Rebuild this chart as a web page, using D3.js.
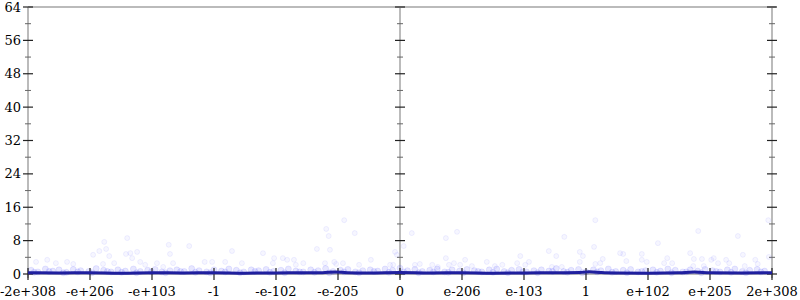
<!DOCTYPE html>
<html>
<head>
<meta charset="utf-8">
<script src="https://cdn.jsdelivr.net/npm/d3@7"></script>
<style>
  body { margin: 0; background: #fff; }
  svg { display: block; font-family: "DejaVu Serif", "Liberation Serif", serif; }
</style>
</head>
<body>
<script>
// x positions are in tick units: each label sits on an integer from -6 to 6
const xTickPos = [-6, -5, -4, -3, -2, -1, 0, 1, 2, 3, 4, 5, 6];
const xTickLabels = ["-2e+308", "-e+206", "-e+103", "-1", "-e-102", "-e-205", "0",
                     "e-206", "e-103", "1", "e+102", "e+205", "2e+308"];
const yMajor = [0, 8, 16, 24, 32, 40, 48, 56, 64];
const yMinor = [4, 12, 20, 28, 36, 44, 52, 60];

// scattered error samples (bits of error)
const outliers = [
  [-5.87,2.9],[-5.69,3.4],[-5.55,2.6],[-5.37,2.9],[-5.27,2.4],[-4.95,4.6],[-4.85,5.5],[-4.77,7.7],
  [-4.74,6.0],[-4.69,4.3],[-4.79,2.4],[-4.61,2.6],[-4.40,8.6],[-4.42,4.8],[-4.35,5.0],[-4.32,3.8],
  [-4.24,5.3],[-4.19,2.9],[-4.11,2.2],[-3.92,2.6],[-3.82,1.7],[-3.73,7.0],[-3.71,4.8],[-3.66,2.6],
  [-3.40,6.7],[-3.15,2.9],[-3.03,2.9],[-2.82,2.9],[-2.71,5.5],[-2.55,2.6],[-2.21,5.0],[-2.03,3.8],
  [-2.05,2.6],[-1.89,3.8],[-1.82,3.4],[-1.71,3.4],[-1.68,2.2],[-1.56,2.6],[-1.34,6.0],[-1.19,10.8],
  [-1.15,9.1],[-1.13,5.8],[-1.21,2.6],[-1.06,2.9],[-1.03,2.4],[-0.92,2.6],[-0.90,12.9],[-0.73,9.8],
  [-0.66,2.2],[-0.47,3.4],[-0.16,2.2],[-0.08,5.3],[-0.05,4.6],[-0.11,2.2],
  [0.06,6.7],[0.19,9.8],[0.24,2.2],[0.32,2.4],[0.52,2.2],[0.61,1.7],[0.74,8.6],[0.74,3.8],
  [0.79,2.2],[0.87,2.6],[0.92,10.1],[0.97,2.2],[1.05,3.4],[1.16,1.9],[1.40,2.9],[1.53,1.9],
  [1.65,2.2],[1.89,2.6],[1.94,4.3],[2.02,2.2],[2.08,2.9],[2.40,5.5],[2.52,4.3],[2.45,1.7],
  [2.61,1.7],[2.65,8.9],[2.90,5.3],[2.95,4.3],[2.90,2.9],[3.15,12.9],[3.13,6.5],[3.15,2.4],
  [3.23,2.6],[3.27,3.6],[3.55,5.0],[3.60,4.8],[3.65,3.1],[3.90,4.8],[3.90,3.4],[3.98,2.9],
  [4.16,7.4],[4.26,2.6],[4.31,3.8],[4.39,2.6],[4.68,5.0],[4.74,3.6],[4.73,1.9],[4.81,10.3],
  [4.87,3.6],[4.90,1.9],[5.02,3.4],[5.06,3.8],[5.13,2.6],[5.26,3.4],[5.31,2.6],[5.45,9.1],
  [5.53,4.6],[5.56,1.9],[5.73,3.4],[5.77,2.4],[5.94,12.9],[5.95,4.1]
];

// dense low-error band just above zero
const band = [
  [-5.95,0.9],[-5.84,0.5],[-5.72,1.2],[-5.60,0.7],[-5.50,1.0],[-5.38,0.4],[-5.27,1.1],[-5.15,0.8],
  [-5.02,0.6],[-4.90,1.3],[-4.78,0.9],[-4.66,0.5],[-4.55,1.0],[-4.43,0.7],[-4.30,1.2],[-4.19,0.6],
  [-4.07,0.9],[-3.95,1.1],[-3.84,0.5],[-3.71,0.8],[-3.60,1.0],[-3.48,0.6],[-3.36,1.3],[-3.24,0.8],
  [-3.12,0.5],[-3.00,1.0],[-2.88,0.7],[-2.76,1.2],[-2.64,0.9],[-2.52,0.5],[-2.40,1.0],[-2.28,0.8],
  [-2.16,1.1],[-2.04,0.6],[-1.92,0.9],[-1.80,1.2],[-1.68,0.7],[-1.56,0.5],[-1.44,1.0],[-1.32,0.8],
  [-1.20,1.3],[-1.08,0.6],[-0.96,0.9],[-0.84,1.1],[-0.72,0.5],[-0.60,0.8],[-0.48,1.0],[-0.36,0.7],
  [-0.24,1.2],[-0.12,0.9],[0.00,1.4],[0.12,0.8],[0.24,1.1],[0.36,0.6],[0.48,0.9],[0.60,1.2],
  [0.72,0.5],[0.84,1.0],[0.96,0.7],[1.08,1.1],[1.20,0.8],[1.32,0.5],[1.44,1.0],[1.56,1.2],
  [1.68,0.6],[1.80,0.9],[1.92,1.1],[2.04,0.5],[2.16,0.8],[2.28,1.0],[2.40,0.7],[2.52,1.3],
  [2.64,0.6],[2.76,0.9],[2.88,1.1],[3.00,0.5],[3.12,1.0],[3.24,0.8],[3.36,1.2],[3.48,0.6],
  [3.60,0.9],[3.72,1.1],[3.84,0.5],[3.96,0.8],[4.08,1.0],[4.20,0.7],[4.32,1.2],[4.44,0.9],
  [4.56,0.5],[4.68,1.0],[4.80,0.7],[4.92,1.1],[5.04,0.8],[5.16,0.5],[5.28,1.0],[5.40,1.2],
  [5.52,0.6],[5.64,0.9],[5.76,1.1],[5.88,0.7],
  [-5.90,0.4],[-5.66,0.6],[-5.43,0.3],[-5.20,0.5],[-4.97,0.3],[-4.72,0.6],[-4.49,0.4],[-4.25,0.3],
  [-4.01,0.5],[-3.78,0.3],[-3.54,0.6],[-3.30,0.4],[-3.06,0.3],[-2.82,0.5],[-2.58,0.3],[-2.34,0.6],
  [-2.10,0.4],[-1.86,0.3],[-1.62,0.5],[-1.38,0.4],[-1.14,0.3],[-0.90,0.5],[-0.66,0.3],[-0.42,0.6],
  [-0.18,0.4],[0.06,0.5],[0.30,0.3],[0.54,0.5],[0.78,0.4],[1.02,0.3],[1.26,0.6],[1.50,0.4],
  [1.74,0.3],[1.98,0.5],[2.22,0.3],[2.46,0.6],[2.70,0.4],[2.94,0.3],[3.18,0.5],[3.42,0.4],
  [3.66,0.3],[3.90,0.6],[4.14,0.4],[4.38,0.3],[4.62,0.5],[4.86,0.3],[5.10,0.6],[5.34,0.4],
  [5.58,0.3],[5.82,0.5]
];

// averaged error line
const avgLine = [
  [-6,0.3],[-5.5,0.25],[-5,0.3],[-4.5,0.2],[-4,0.3],[-3.5,0.25],[-3,0.3],[-2.5,0.2],
  [-2,0.25],[-1.5,0.3],[-1.25,0.3],[-1.05,0.5],[-0.85,0.3],[-0.5,0.25],[0,0.35],[0.5,0.25],
  [1,0.3],[1.5,0.2],[2,0.25],[2.5,0.3],[2.9,0.35],[3.05,0.55],[3.25,0.35],[3.5,0.25],
  [4,0.2],[4.5,0.3],[4.75,0.45],[5,0.3],[5.5,0.25],[6,0.3]
];

const width = 800, height = 300;
const mLeft = 28, mRight = 772, mTop = 7, mBottom = 274;

const x = d3.scaleLinear().domain([-6, 6]).range([mLeft, mRight]);
const y = d3.scaleLinear().domain([0, 64]).range([mBottom, mTop]);

const svg = d3.select("body").append("svg")
    .attr("width", width)
    .attr("height", height);

// frame: gray axis lines
const axisColor = "#bbb";
[x(-6), x(0), x(6)].forEach(px => {
  svg.append("line")
    .attr("x1", px).attr("x2", px)
    .attr("y1", mTop).attr("y2", mBottom + 4)
    .attr("stroke", axisColor).attr("stroke-width", 2);
});
svg.append("line")
  .attr("x1", mLeft).attr("x2", mRight + 4)
  .attr("y1", mTop).attr("y2", mTop)
  .attr("stroke", axisColor).attr("stroke-width", 2);
svg.append("line")
  .attr("x1", mLeft).attr("x2", mRight)
  .attr("y1", mBottom).attr("y2", mBottom)
  .attr("stroke", axisColor).attr("stroke-width", 2);

// y ticks on the three vertical axes
[x(-6), x(0), x(6)].forEach(px => {
  svg.append("g").selectAll("line")
    .data(yMajor)
    .join("line")
    .attr("x1", px - 5).attr("x2", px + 5)
    .attr("y1", d => y(d)).attr("y2", d => y(d))
    .attr("stroke", "#222").attr("stroke-width", 1.2);
  svg.append("g").selectAll("line")
    .data(yMinor)
    .join("line")
    .attr("x1", px - 3).attr("x2", px + 3)
    .attr("y1", d => y(d)).attr("y2", d => y(d))
    .attr("stroke", "#666").attr("stroke-width", 1);
});

svg.append("g").selectAll("text")
  .data(yMajor)
  .join("text")
  .attr("x", mLeft - 7)
  .attr("y", d => y(d) + 4.5)
  .attr("text-anchor", "end")
  .attr("font-size", 13)
  .attr("fill", "#000")
  .text(d => d);

// data: scatter points
const pts = svg.append("g");
pts.selectAll("circle.band")
  .data(band)
  .join("circle")
  .attr("class", "band")
  .attr("cx", d => x(d[0]))
  .attr("cy", d => y(d[1]))
  .attr("r", 3)
  .attr("fill", "#3a3aff")
  .attr("fill-opacity", 0.12)
  .attr("stroke", "#3a3aff")
  .attr("stroke-opacity", 0.1);
pts.selectAll("circle.out")
  .data(outliers)
  .join("circle")
  .attr("class", "out")
  .attr("cx", d => x(d[0]))
  .attr("cy", d => y(d[1]))
  .attr("r", 2.5)
  .attr("fill", "#5050ff")
  .attr("fill-opacity", 0.05)
  .attr("stroke", "#5050ff")
  .attr("stroke-opacity", 0.08);

// x ticks and labels
svg.append("g").selectAll("line")
  .data(xTickPos)
  .join("line")
  .attr("x1", d => x(d)).attr("x2", d => x(d))
  .attr("y1", mBottom - 6).attr("y2", mBottom + 6)
  .attr("stroke", "#222").attr("stroke-width", 1.2);

// error line
const line = d3.line()
  .x(d => x(d[0]))
  .y(d => y(d[1]))
  .curve(d3.curveMonotoneX);
svg.append("path")
  .datum(avgLine)
  .attr("d", line)
  .attr("fill", "none")
  .attr("stroke", "#1f1f9e")
  .attr("stroke-width", 3);

svg.append("g").selectAll("text")
  .data(xTickPos)
  .join("text")
  .attr("x", d => x(d))
  .attr("y", 296)
  .attr("text-anchor", "middle")
  .attr("font-size", 13)
  .attr("fill", "#000")
  .text((d, i) => xTickLabels[i]);
</script>
</body>
</html>
